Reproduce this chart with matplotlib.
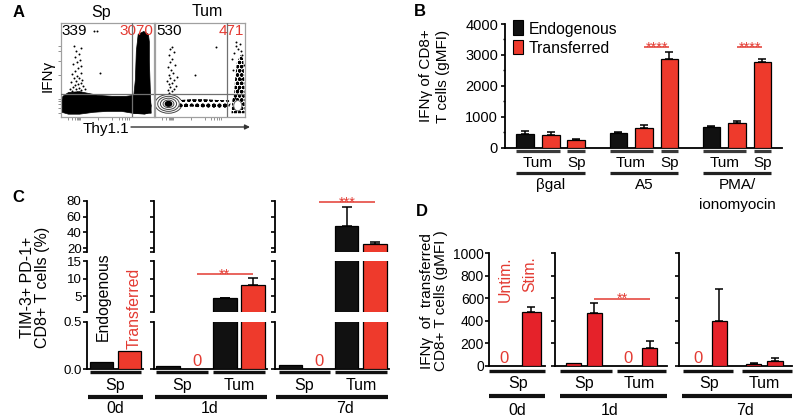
import numpy as np
import matplotlib
matplotlib.use('Agg')
import matplotlib.pyplot as plt
from matplotlib.patches import Rectangle, Ellipse, Polygon
from matplotlib.transforms import blended_transform_factory

plt.rcParams['font.family'] = ['Liberation Sans', 'DejaVu Sans']
plt.rcParams['hatch.linewidth'] = 1.2

# ======================= DATA =======================
# ---- A: flow plots (IFNγ vs Thy1.1); event regions in % of plot area ----
a_titles = ['Sp', 'Tum']
a_endo_counts = ['339', '530']
a_tr_counts = ['3070', '471']
a_gate_x = [76, 80]
a_gate_y = 24.5
a_sp_band = [(1, 5), (8, 3), (20, 3), (35, 5), (50, 6), (65, 6), (77, 4), (90, 3), (96, 5), (97, 12),
             (95, 22), (85, 24), (70, 22), (55, 22), (40, 23), (30, 25), (20, 27), (8, 26), (2, 22), (0, 14)]
a_sp_column = [(78, 4), (97, 4), (96, 30), (95, 60), (95, 80), (94, 88), (89, 91), (83, 88), (81, 70),
               (80, 40), (78, 20)]
a_sp_dots = [(14, 26), (17, 27), (20, 26), (12, 28), (22, 29), (16, 30), (19, 31), (13, 32), (24, 33),
             (15, 34), (18, 35), (21, 36), (11, 37), (16, 38), (23, 39), (14, 41), (19, 42), (17, 44),
             (12, 46), (21, 47), (15, 49), (18, 52), (22, 54), (13, 56), (17, 58), (20, 61), (15, 64),
             (19, 67), (16, 70), (21, 73), (14, 76), (36, 91), (39, 91), (42, 47), (26, 30), (10, 30)]
a_tum_rings = [(30, 20), (24, 16), (18, 12), (12, 8)]
a_tum_ring_center = (15, 14)
a_tum_band = [(27, 10), (40, 11), (55, 10), (70, 9), (82, 10), (84, 14), (82, 18), (70, 18), (55, 19),
              (40, 19), (28, 18)]
a_tum_column = [(85, 4), (99.5, 4), (99.5, 25), (99, 45), (98, 62), (95, 66), (91, 58), (89, 40),
                (88, 25), (86, 18)]
a_tum_dots = [(16, 26), (19, 28), (14, 29), (21, 30), (17, 32), (23, 33), (15, 35), (19, 36), (13, 38),
              (21, 39), (17, 41), (24, 43), (15, 45), (20, 47), (18, 50), (14, 53), (22, 55), (17, 58),
              (19, 62), (15, 66), (21, 69), (17, 72), (19, 75), (44, 45), (68, 75), (88, 68), (92, 72),
              (95, 70), (90, 76), (97, 66), (86, 62), (94, 78), (99, 55), (90, 80), (87, 50), (96, 40),
              (92, 30), (98, 22), (89, 20), (94, 50)]

# ---- B ----
b_groups = ['βgal', 'A5', 'PMA/\nionomyocin']
b_subgroups = ['Tum', 'Sp']
b_series = ['Endogenous', 'Transferred']
b_endo_tum = [440, 485, 680]
b_endo_tum_err = [85, 15, 20]
b_tr_tum = [420, 645, 800]
b_tr_tum_err = [75, 95, 65]
b_tr_sp = [236, 2860, 2785]
b_tr_sp_err = [30, 225, 75]
b_sig = ['', '****', '****']
b_yticks = [0, 1000, 2000, 3000, 4000]

# ---- C ----
c_days = ['0d', '1d', '7d']
c_sites = [['Sp'], ['Sp', 'Tum'], ['Sp', 'Tum']]
c_endo = [[0.07], [0.035, 4.5], [0.045, 48]]
c_endo_err = [[0], [0, 0.2], [0, 23.5]]
c_tr = [[0.19], [0, 8.3], [0, 25]]
c_tr_err = [[0], [0, 1.9], [0, 2.5]]
c_sig = ['', '**', '***']
c_seg_ticks = [[0.0, 0.5], [5, 10, 15], [20, 40, 60, 80]]
c_seg_ticklabels = [['0.0', '0.5'], ['5', '10', '15'], ['20', '40', '60', '80']]
c_seg_lims = [(0, 0.5), (0.7, 15), (15.7, 80)]

# ---- D ----
d_days = ['0d', '1d', '7d']
d_sites = [['Sp'], ['Sp', 'Tum'], ['Sp', 'Tum']]
d_series = ['Untim.', 'Stim.']
d_untim = [[0], [20, 0], [0, 15]]
d_untim_err = [[0], [0, 0], [0, 10]]
d_stim = [[475], [472, 155], [398, 40]]
d_stim_err = [[50], [88, 65], [282, 25]]
d_sig = ['', '**', '']
d_yticks = [0, 200, 400, 600, 800, 1000]

# ======================= STYLE / LAYOUT =======================
BLACK = '#111111'
RED = '#EE3A2C'
RED_D = '#E5222A'
RED_TXT = '#E33A32'
W, H = 800, 418

fig = plt.figure(figsize=(W / 100, H / 100), dpi=100)


def rect(x0, y0, x1, y1):
    return [x0 / W, 1 - y1 / H, (x1 - x0) / W, (y1 - y0) / H]


ov = fig.add_axes([0, 0, 1, 1], zorder=20)
ov.set_xlim(0, W)
ov.set_ylim(H, 0)
ov.set_autoscale_on(False)
ov.axis('off')


def bl(ax):
    return blended_transform_factory(ax.transData, ov.transData)


def uline(ax, x0, x1, y, lw=2.5, color=BLACK):
    ov.plot([x0, x1], [y, y], transform=bl(ax), color=color, lw=lw,
            solid_capstyle='butt', clip_on=False)


def utext(ax, x, y, s, **kw):
    kw.setdefault('ha', 'center')
    kw.setdefault('va', 'baseline')
    kw.setdefault('fontsize', 11)
    ov.text(x, y, s, transform=bl(ax), **kw)


def draw_bars(ax, x, h, err, color, w, cap=3.2):
    x = np.asarray(x, float)
    h = np.asarray(h, float)
    err = np.asarray(err, float)
    m = h > 0
    ax.bar(x[m], h[m], w, color=color, edgecolor='black', linewidth=0.9, zorder=3)
    e = m & (err > 0)
    if e.any():
        ax.errorbar(x[e], h[e], yerr=[np.zeros(e.sum()), err[e]], fmt='none', ecolor='black',
                    elinewidth=1.1, capsize=cap, capthick=1.1, zorder=2)


def panel_letter(x, y, s):
    ov.text(x, y, s, fontsize=12, fontweight='bold', ha='center', va='center')


# ======================= PANEL A =======================
panel_letter(18.5, 12.5, 'A')
a_boxes = [(61, 23, 154, 117), (155, 23, 245, 117)]
a_title_x = [101, 207]
for k, bx in enumerate(a_boxes):
    ax = fig.add_axes(rect(*bx))
    ax.set_xlim(0, 100)
    ax.set_ylim(0, 100)
    ax.set_xticks([8, 12, 15, 17, 18, 19, 20, 40, 55, 62, 66, 69, 71, 73])
    ax.set_yticks([4, 10, 14, 17, 19, 45, 60, 70, 76] if k == 0 else [])
    ax.set_xticklabels([])
    ax.set_yticklabels([])
    ax.tick_params(length=2, width=0.6, color='#808080', direction='out')
    for sp in ax.spines.values():
        sp.set_color('#a0a0a0')
        sp.set_linewidth(0.9)
    ax.axhline(a_gate_y, color='#707070', lw=0.9, zorder=5)
    ax.axvline(a_gate_x[k], color='#707070', lw=0.9, zorder=5)
    if k == 0:
        ax.add_patch(Polygon(a_sp_band, closed=True, fc='black', ec='black', lw=0.5))
        ax.add_patch(Polygon(a_sp_column, closed=True, fc='black', ec='black', lw=0.5))
        dots = a_sp_dots
    else:
        for (ew, eh) in a_tum_rings:
            ax.add_patch(Ellipse(a_tum_ring_center, ew, eh, fc='none', ec='#444444', lw=0.7))
        ax.add_patch(Ellipse(a_tum_ring_center, 7, 5, fc='black', ec='black'))
        ax.add_patch(Polygon(a_tum_band, closed=True, fc='white', ec='black', lw=0,
                             hatch='ooo'))
        ax.add_patch(Polygon(a_tum_column, closed=True, fc='white', ec='black', lw=0,
                             hatch='oooo'))
        ax.add_patch(Ellipse((92, 12), 9, 11, fc='white', ec='#666666', lw=0.7, zorder=4))
        dots = a_tum_dots
    dx, dy = zip(*dots)
    ax.scatter(dx, dy, s=2, c='black', linewidths=0)
    ax.text(1, 99, a_endo_counts[k], ha='left', va='top', fontsize=11, transform=ax.transData)
    ax.text(99, 99, a_tr_counts[k], ha='right', va='top', fontsize=11, color=RED_TXT)
    ov.text(a_title_x[k], 12, a_titles[k], ha='center', va='center', fontsize=11.5)

ov.text(47.5, 75.5, 'IFNγ', rotation=90, ha='center', va='center', fontsize=11)
ov.text(106, 129, 'Thy1.1', ha='center', va='center', fontsize=11)
ov.annotate('', xy=(250, 127), xytext=(131, 127),
            arrowprops=dict(arrowstyle='-|>', lw=1.0, color='#333333', mutation_scale=7,
                            shrinkA=0, shrinkB=0))

# ======================= PANEL B =======================
panel_letter(420, 12, 'B')
axB = fig.add_axes(rect(505, 24, 782, 147.7))
BW = 0.69
gx = np.arange(len(b_groups)) * 3.65
draw_bars(axB, gx, b_endo_tum, b_endo_tum_err, BLACK, BW)
draw_bars(axB, gx + 1, b_tr_tum, b_tr_tum_err, RED, BW)
draw_bars(axB, gx + 2, b_tr_sp, b_tr_sp_err, RED, BW)
axB.set_xlim(-0.796, 10.07)
axB.set_ylim(0, 4000)
axB.set_yticks(b_yticks)
axB.set_yticks(np.arange(500, 4000, 1000), minor=True)
axB.set_xticks([])
for s in ['top', 'right']:
    axB.spines[s].set_visible(False)
for s in ['left', 'bottom']:
    axB.spines[s].set_linewidth(1.3)
axB.tick_params(axis='y', which='major', length=2.6, width=1.2, labelsize=10.5, pad=2.4)
axB.tick_params(axis='y', which='minor', length=1.6, width=1.0)
for g, gname in enumerate(b_groups):
    x0 = gx[g]
    uline(axB, x0 - BW / 2, x0 + 1 + BW / 2, 151, lw=2.3, color='#3a3a3a')
    uline(axB, x0 + 2 - BW / 2, x0 + 2 + BW / 2, 151, lw=2.3, color='#3a3a3a')
    uline(axB, x0 - BW / 2, x0 + 2 + BW / 2, 173, lw=2.3, color='#222222')
    utext(axB, x0 + 0.5, 166.7, b_subgroups[0])
    utext(axB, x0 + 2, 166.7, b_subgroups[1])
    for li, line in enumerate(gname.split('\n')):
        utext(axB, x0 + 1, 189 + 20 * li, line)
    if b_sig[g]:
        uline(axB, x0 + 1, x0 + 2, 46.7, lw=1.1, color=RED_TXT)
        utext(axB, x0 + 1.5, 51.5, b_sig[g], fontsize=10.5, color=RED_TXT)
ov.text(434.5, 76, 'IFNγ of CD8+\nT cells (gMFI)', rotation=90, ha='center', va='center',
        fontsize=11, multialignment='center', linespacing=1.2)
# legend
ov.add_patch(Rectangle((513, 20), 10, 15, fc=BLACK, ec='black', lw=0.8))
ov.add_patch(Rectangle((513, 39.5), 10, 14, fc=RED, ec='black', lw=0.8))
ov.text(529, 34.3, b_series[0], ha='left', va='baseline', fontsize=11.3)
ov.text(529, 53.3, b_series[1], ha='left', va='baseline', fontsize=11.3)

# ======================= PANEL C =======================
panel_letter(18, 197.5, 'C')
c_xpx = [(87.3, 143.2), (154, 267.4), (275, 389)]
c_xlim = [(-0.5, 1.5), (-0.5, 3.5), (-0.55, 3.5)]
c_seg_px = [(322, 369), (261, 311.7), (200.7, 251.7)]
c_day_x = [0.5, 1.45, 1.95]
CBW = 0.83
for i, day in enumerate(c_days):
    n = len(c_sites[i])
    xe = np.arange(n) * 2.0
    xt = xe + 1
    base_ax = None
    for s in range(3):
        ax = fig.add_axes(rect(c_xpx[i][0], c_seg_px[s][0], c_xpx[i][1], c_seg_px[s][1]))
        ax.patch.set_alpha(0)
        ax.set_xlim(*c_xlim[i])
        ax.set_ylim(*c_seg_lims[s])
        draw_bars(ax, xe, c_endo[i], c_endo_err[i], BLACK, CBW, cap=3.3)
        draw_bars(ax, xt, c_tr[i], c_tr_err[i], RED, CBW, cap=3.3)
        ax.set_xticks([])
        ax.set_yticks(c_seg_ticks[s])
        if s > 0:
            ax.set_yticks([c_seg_lims[s][0]], minor=True)
        ax.set_yticklabels(c_seg_ticklabels[s] if i == 0 else [])
        for sp in ['top', 'right']:
            ax.spines[sp].set_visible(False)
        ax.spines['left'].set_linewidth(1.3)
        if s == 0:
            ax.spines['bottom'].set_linewidth(1.3)
            base_ax = ax
        else:
            ax.spines['bottom'].set_visible(False)
        ax.tick_params(axis='y', which='both', length=2.6, width=1.2, labelsize=9.5, pad=1.5)
    ax = base_ax
    for j, site in enumerate(c_sites[i]):
        uline(ax, xe[j] - CBW / 2, xt[j] + CBW / 2, 371.7, lw=2.4)
        utext(ax, xe[j] + 0.5, 390, site, fontsize=11.5)
        if c_tr[i][j] == 0:
            utext(ax, xt[j], 365.7, '0', fontsize=12, color=RED_TXT)
    uline(ax, c_xlim[i][0] + 0.02, c_xlim[i][1] - 0.02, 397, lw=3)
    utext(ax, c_day_x[i], 413.3, day, fontsize=11.5)
    if c_sig[i]:
        ysig = 274.3 if i == 1 else 202.3
        uline(ax, 1, 3, ysig, lw=1.1, color=RED_TXT)
        utext(ax, 2, ysig + 4, c_sig[i], fontsize=10.5, color=RED_TXT)
    if i == 0:
        utext(ax, 0.07, 296.7, b_series[0], rotation=90, va='center', fontsize=11.3, color='black')
        utext(ax, 1.17, 308, b_series[1], rotation=90, va='center', fontsize=11.3, color=RED_TXT)
ov.text(35.5, 287, 'TIM-3+ PD-1+\nCD8+ T cells (%)', rotation=90, ha='center', va='center',
        fontsize=11.5, multialignment='center', linespacing=1.0)

# ======================= PANEL D =======================
panel_letter(422, 211, 'D')
d_xpx = [(489.3, 545), (555, 666.7), (679.3, 791.7)]
d_xlim = [(-0.54, 1.5), (-0.86, 4.4), (-0.87, 4.38)]
d_sub_spans = [[(-0.54, 1.5)], [(-0.63, 1.84), (2.07, 4.36)], [(-0.71, 1.66), (2.04, 4.38)]]
d_day_span = [(-0.54, 1.5), (-0.63, 4.4), (-0.76, 4.38)]
d_day_x = [0.48, 1.7, 2.2]
DBW = 0.71
for i, day in enumerate(d_days):
    n = len(d_sites[i])
    xu = np.arange(n) * 2.6
    xs = xu + 1
    ax = fig.add_axes(rect(d_xpx[i][0], 253.3, d_xpx[i][1], 365.7))
    ax.patch.set_alpha(0)
    ax.set_xlim(*d_xlim[i])
    ax.set_ylim(0, 1000)
    draw_bars(ax, xu, d_untim[i], d_untim_err[i], RED_D, DBW, cap=2.8)
    draw_bars(ax, xs, d_stim[i], d_stim_err[i], RED_D, DBW, cap=2.8)
    ax.set_xticks([])
    ax.set_yticks(d_yticks)
    if i > 0:
        ax.set_yticklabels([])
    for sp in ['top', 'right']:
        ax.spines[sp].set_visible(False)
    for sp in ['left', 'bottom']:
        ax.spines[sp].set_linewidth(1.3)
    ax.tick_params(axis='y', length=3, width=1.2, labelsize=10, pad=0.8)
    for j, site in enumerate(d_sites[i]):
        a0, a1 = d_sub_spans[i][j]
        uline(ax, a0, a1, 370.7, lw=2.4)
        utext(ax, xu[j] + 0.5, 388.3, site, fontsize=11.5)
        if d_untim[i][j] == 0:
            utext(ax, xu[j], 363.3, '0', fontsize=12, color=RED_TXT)
    uline(ax, d_day_span[i][0], d_day_span[i][1], 395.7, lw=3)
    utext(ax, d_day_x[i], 415, day, fontsize=11.5)
    if d_sig[i]:
        uline(ax, xs[0], xs[1], 298.7, lw=1.1, color=RED_TXT)
        utext(ax, (xs[0] + xs[1]) / 2, 302.5, d_sig[i], fontsize=10.5, color=RED_TXT)
    if i == 0:
        utext(ax, 0.04, 256.7, d_series[0], rotation=90, va='top', fontsize=11.3, color=RED_TXT)
        utext(ax, 0.95, 256.7, d_series[1], rotation=90, va='top', fontsize=11.3, color=RED_TXT)
ov.text(434, 301, 'IFNγ  of  transferred\nCD8+ T cells (gMFI )', rotation=90, ha='center',
        va='center', fontsize=11, multialignment='center', linespacing=1.08)

fig.savefig('out.png', dpi=100)
